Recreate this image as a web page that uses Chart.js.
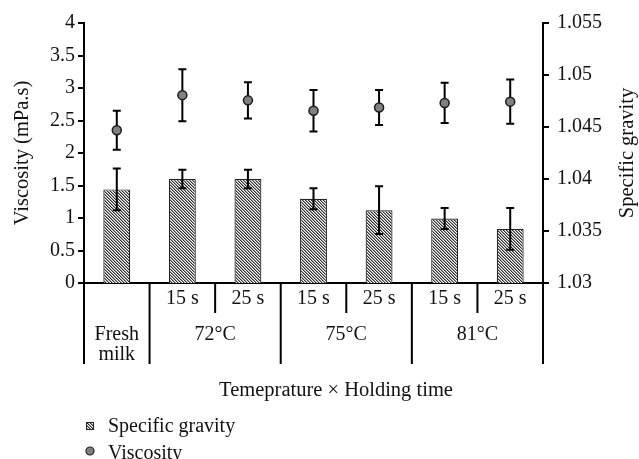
<!DOCTYPE html>
<html>
<head>
<meta charset="utf-8">
<script src="https://cdn.jsdelivr.net/npm/chart.js@4.4.1/dist/chart.umd.min.js"></script>
<style>
  body { margin: 0; background: #fff; }
  canvas { display: block; }
</style>
</head>
<body>
<canvas id="milkChart" width="639" height="459"></canvas>
<script>
// Data
const holdTimes = ['', '15 s', '25 s', '15 s', '25 s', '15 s', '25 s'];
const groupLabels = [['Fresh', 'milk'], ['72°C'], ['75°C'], ['81°C']];
const groupStart = [0, 1, 3, 5];
const groupSize = [1, 2, 2, 2];

const specificGravity = [1.0390, 1.0400, 1.0400, 1.0381, 1.0370, 1.0362, 1.0352];
const sgError = [0.0020, 0.0009, 0.0009, 0.0010, 0.0023, 0.0010, 0.0020];
const viscosity = [2.35, 2.89, 2.81, 2.65, 2.70, 2.77, 2.79];
const viscError = [0.30, 0.40, 0.28, 0.32, 0.27, 0.31, 0.34];

const FONT = '"Liberation Serif", "Times New Roman", serif';
const INK = '#111';

// diagonal "\" hatch for the bars, 3px pitch
function makeHatch() {
  const c = document.createElement('canvas');
  c.width = c.height = 3;
  const g = c.getContext('2d');
  const shades = ['#2e2e2e', '#9a9a9a', '#ffffff'];
  for (let y = 0; y < 3; y++) {
    for (let x = 0; x < 3; x++) {
      g.fillStyle = shades[((x - y) % 3 + 3) % 3];
      g.fillRect(x, y, 1, 1);
    }
  }
  return g.createPattern(c, 'repeat');
}
const hatch = makeHatch();

function drawErrors(chart, idx) {
  const ds = chart.data.datasets[idx];
  if (!ds.errors) return;
  const meta = chart.getDatasetMeta(idx);
  const scale = chart.scales[ds.yAxisID];
  const ctx = chart.ctx;
  ctx.save();
  ctx.strokeStyle = '#000';
  ctx.lineWidth = 2;
  meta.data.forEach((el, i) => {
    const x = el.x;
    const top = scale.getPixelForValue(ds.data[i] + ds.errors[i]);
    const bot = scale.getPixelForValue(ds.data[i] - ds.errors[i]);
    ctx.beginPath();
    ctx.moveTo(x, top); ctx.lineTo(x, bot);
    ctx.moveTo(x - 4, top); ctx.lineTo(x + 4, top);
    ctx.moveTo(x - 4, bot); ctx.lineTo(x + 4, bot);
    ctx.stroke();
  });
  ctx.restore();
}

const errorBars = {
  id: 'errorBars',
  beforeDatasetDraw(chart, args) {
    if (chart.data.datasets[args.index].type === 'line') drawErrors(chart, args.index);
  },
  afterDatasetDraw(chart, args) {
    if (chart.data.datasets[args.index].type !== 'line') drawErrors(chart, args.index);
  }
};

// two-level category axis, axis titles and legend
const decorations = {
  id: 'decorations',
  afterDraw(chart) {
    const ctx = chart.ctx;
    const x = chart.scales.x;
    const area = chart.chartArea;
    const step = (area.right - area.left) / holdTimes.length;
    const edge = i => area.left + i * step;
    const y0 = area.bottom;

    ctx.save();
    ctx.strokeStyle = '#000';
    ctx.lineWidth = 2;
    ctx.fillStyle = INK;
    ctx.font = '20px ' + FONT;
    ctx.textAlign = 'center';
    ctx.textBaseline = 'alphabetic';

    // hold time row
    holdTimes.forEach((t, i) => {
      if (t) ctx.fillText(t, x.getPixelForValue(i), y0 + 21);
    });
    // group rows
    groupLabels.forEach((lines, g) => {
      const s = groupStart[g], n = groupSize[g];
      const cx = (edge(s) + edge(s + n)) / 2;
      lines.forEach((ln, k) => ctx.fillText(ln, cx, y0 + 57 + k * 20));
      // long dividers
      ctx.beginPath();
      ctx.moveTo(edge(s), y0); ctx.lineTo(edge(s), y0 + 81);
      ctx.stroke();
      if (n > 1) {
        ctx.beginPath();
        ctx.moveTo(edge(s + 1), y0); ctx.lineTo(edge(s + 1), y0 + 30);
        ctx.stroke();
      }
    });
    ctx.beginPath();
    ctx.moveTo(edge(holdTimes.length), y0); ctx.lineTo(edge(holdTimes.length), y0 + 81);
    ctx.stroke();

    // x title
    ctx.font = '20.5px ' + FONT;
    ctx.fillText('Temeprature × Holding time', 336, y0 + 113);

    // y titles
    const cy = (area.top + area.bottom) / 2;
    ctx.textBaseline = 'middle';
    ctx.save();
    ctx.translate(23, cy);
    ctx.rotate(-Math.PI / 2);
    ctx.fillText('Viscosity (mPa.s)', 0, 0);
    ctx.restore();
    ctx.save();
    ctx.translate(628, cy);
    ctx.rotate(-Math.PI / 2);
    ctx.fillText('Specific gravity', 0, 0);
    ctx.restore();

    // legend
    ctx.font = '20px ' + FONT;
    ctx.textAlign = 'left';
    ctx.textBaseline = 'alphabetic';
    const sg = chart.data.datasets[1];
    const vs = chart.data.datasets[0];
    ctx.fillStyle = hatch;
    ctx.fillRect(86, 422, 8, 8);
    ctx.lineWidth = 1;
    ctx.strokeStyle = '#222';
    ctx.strokeRect(86.5, 422.5, 7, 7);
    ctx.fillStyle = INK;
    ctx.fillText(sg.label, 108, 432);
    ctx.beginPath();
    ctx.arc(90, 451, 4, 0, Math.PI * 2);
    ctx.fillStyle = '#808080';
    ctx.fill();
    ctx.lineWidth = 1.2;
    ctx.stroke();
    ctx.fillStyle = INK;
    ctx.fillText(vs.label, 108, 459);
    ctx.restore();
  }
};

const ctx = document.getElementById('milkChart').getContext('2d');
const milkChart = new Chart(ctx, {
  type: 'bar',
  data: {
    labels: holdTimes.map((t, i) => i),
    datasets: [
      {
        type: 'line',
        label: 'Viscosity',
        data: viscosity,
        errors: viscError,
        yAxisID: 'y',
        showLine: false,
        pointRadius: 4.5,
        pointBackgroundColor: '#808080',
        pointBorderColor: '#1a1a1a',
        pointBorderWidth: 1.5,
        order: 0
      },
      {
        type: 'bar',
        label: 'Specific gravity',
        data: specificGravity,
        errors: sgError,
        yAxisID: 'y2',
        backgroundColor: hatch,
        borderColor: '#222',
        borderWidth: 1.2,
        categoryPercentage: 1,
        barPercentage: 0.41,
        order: 1
      }
    ]
  },
  options: {
    responsive: false,
    animation: false,
    layout: { padding: { top: 23, left: 0, right: 0, bottom: 0 } },
    plugins: {
      legend: { display: false },
      tooltip: { enabled: false }
    },
    scales: {
      x: {
        offset: true,
        ticks: { display: false },
        grid: { display: false },
        border: { display: true, color: '#000', width: 2 },
        afterFit: s => { s.height = 176; }
      },
      y: {
        position: 'left',
        min: 0,
        max: 4,
        ticks: {
          stepSize: 0.5,
          color: INK,
          padding: 3,
          font: { family: FONT, size: 20 },
          callback: v => String(v)
        },
        grid: { drawOnChartArea: false, drawTicks: true, tickLength: 6, color: '#000', lineWidth: 2 },
        border: { display: true, color: '#000', width: 2 },
        afterFit: s => { s.width = 84; }
      },
      y2: {
        position: 'right',
        min: 1.03,
        max: 1.055,
        ticks: {
          stepSize: 0.005,
          color: INK,
          padding: 8,
          font: { family: FONT, size: 20 },
          callback: v => String(+v.toFixed(3))
        },
        grid: { drawOnChartArea: false, drawTicks: true, tickLength: 6, color: '#000', lineWidth: 2 },
        border: { display: true, color: '#000', width: 2 },
        afterFit: s => { s.width = 96; }
      }
    }
  },
  plugins: [errorBars, decorations]
});
</script>
</body>
</html>
